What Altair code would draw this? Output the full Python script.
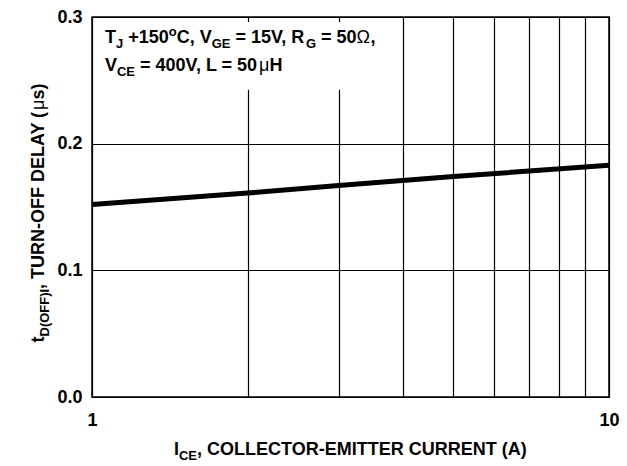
import altair as alt
import pandas as pd

# ---- data ----
current = [1, 2, 3, 5, 10]
delay = [0.152, 0.161, 0.167, 0.174, 0.183]
y_ticks = [0.0, 0.1, 0.2, 0.3]
x_grid = [1, 2, 3, 4, 5, 6, 7, 8, 9, 10]
x_labels = [1, 10]

# text segments: (text, position n/s/p, bold)
note_line1 = [("T", "n", True), ("J", "s", True), (" +150", "n", True), ("o", "p", True),
              ("C, V", "n", True), ("GE", "s", True), (" = 15V, R", "n", True), ("G", "s", True),
              (" = 50", "n", True), ("\u03a9", "n", False), (",", "n", True)]
note_line2 = [("V", "n", True), ("CE", "s", True), (" = 400V, L = 50", "n", True),
              ("\u03bc", "n", False), ("H", "n", True)]
x_title = [("I", "n", True), ("CE", "s", True), (", COLLECTOR-EMITTER CURRENT (A)", "n", True)]
y_title = [("t", "n", True), ("D(OFF)I", "s", True), (", TURN-OFF DELAY (", "n", True),
           ("\u03bc", "n", False), ("s)", "n", True)]

# box behind the note (data coordinates)
box = {"x1": 1.012, "x2": 3.85, "y1": 0.296, "y2": 0.2425}

FONT = "Liberation Sans"
SIZE = 18
W = {' ': 278, ',': 278, '.': 278, '-': 333, '(': 333, ')': 333, '+': 584, '=': 584,
     'A': 722, 'B': 722, 'C': 722, 'D': 722, 'E': 667, 'F': 611, 'G': 778, 'H': 722, 'I': 278,
     'J': 556, 'K': 722, 'L': 611, 'M': 833, 'N': 722, 'O': 778, 'P': 667, 'R': 722, 'S': 667,
     'T': 611, 'U': 722, 'V': 667, 'W': 944, 'Y': 667, 'o': 611, 's': 556, 't': 333,
     '\u03bc': 576, '\u03a9': 768}
for d in "0123456789":
    W[d] = 556


def layout(segs, size):
    out, pos = [], 0.0
    for text, kind, bold in segs:
        fs = size * 0.72 if kind in "sp" else size
        shift = {"n": 0.0, "s": size * 0.26, "p": -size * 0.40}[kind]
        stripped = text.lstrip(" ")
        lead = (len(text) - len(stripped)) * W[' '] / 1000 * fs
        out.append(dict(text=stripped, along=pos + lead, shift=shift, fs=fs, bold=bold))
        pos += sum(W.get(c, 600) for c in text) / 1000 * fs
    return out, pos


def text_layers(segs, x0, y0, size, rotated=False, center=False):
    pcs, total = layout(segs, size)
    layers = []
    for p in pcs:
        if rotated:
            start = y0 + total / 2 if center else y0
            px, py, ang = x0 + p["shift"], start - p["along"], 270
        else:
            start = x0 - total / 2 if center else x0
            px, py, ang = start + p["along"], y0 + p["shift"], 0
        layers.append(
            alt.Chart(alt.Data(values=[{}])).mark_text(
                align="left", baseline="alphabetic", font=FONT, fontSize=p["fs"],
                fontWeight="bold" if p["bold"] else "normal", angle=ang, color="black"
            ).encode(x=alt.value(px), y=alt.value(py), text=alt.value(p["text"]))
        )
    return layers


PW, PH = 517, 380

xscale = alt.Scale(type="log", domain=[1, 10], nice=False)
yscale = alt.Scale(domain=[0, 0.3], nice=False, zero=False)

xaxis = alt.Axis(
    values=x_grid, format="d", title=None, grid=True, ticks=False, domain=False,
    labelExpr="datum.value == %d || datum.value == %d ? datum.label : ''" % tuple(x_labels),
    labelFlush=False, labelOverlap=False, labelPadding=14)
yaxis = alt.Axis(
    values=y_ticks, format=".1f", title=None, grid=True, ticks=False, domain=False,
    labelPadding=10, labelOverlap=False)

df = pd.DataFrame({"I": current, "t": delay})

line = alt.Chart(df).mark_line(color="black", strokeWidth=5).encode(
    x=alt.X("I:Q", scale=xscale, axis=xaxis),
    y=alt.Y("t:Q", scale=yscale, axis=yaxis),
)

boxdf = pd.DataFrame([box])
rect = alt.Chart(boxdf).mark_rect(color="white").encode(
    x=alt.X("x1:Q", scale=xscale, axis=xaxis), x2="x2:Q",
    y=alt.Y("y1:Q", scale=yscale, axis=yaxis), y2="y2:Q",
)

texts = []
texts += text_layers(note_line1, 13, 26, SIZE)
texts += text_layers(note_line2, 13, 54, SIZE)
texts += text_layers(x_title, PW / 2, 438, SIZE, center=True)
texts += text_layers(y_title, -48, PH / 2 + 6, SIZE, rotated=True, center=True)

chart = alt.layer(rect, line, *texts).properties(
    width=PW, height=PH,
    autosize=alt.AutoSizeParams(type="none"),
    padding={"left": 84, "top": 9, "right": 10, "bottom": 68},
).configure_view(
    stroke="black", strokeWidth=1.5
).configure_axis(
    labelFont=FONT, labelFontSize=SIZE, labelFontWeight="bold", labelColor="black",
    gridColor="black", gridWidth=1.2, gridOpacity=1
)

chart.save("out.html", embed_options={"renderer": "svg", "actions": False})
